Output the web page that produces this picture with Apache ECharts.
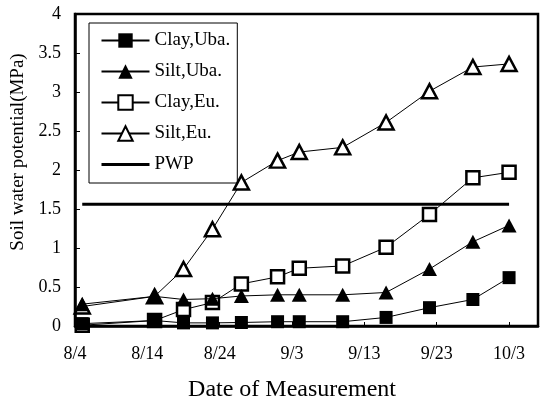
<!DOCTYPE html>
<html>
<head>
<meta charset="utf-8">
<script src="https://cdn.jsdelivr.net/npm/echarts@6/dist/echarts.min.js"></script>
<style>
html,body{margin:0;padding:0;background:#fff;}
#chart{width:541px;height:403px;}
</style>
</head>
<body>
<div id="chart"></div>
<script>
// ---- data ----
var startDate = '8/4';
var measureDates = ['8/5','8/15','8/19','8/23','8/27','9/1','9/4','9/10','9/16','9/22','9/28','10/3'];
var tickLabels = ['8/4','8/14','8/24','9/3','9/13','9/23','10/3'];
var clayUba = [0.03, 0.07, 0.04, 0.04, 0.045, 0.055, 0.055, 0.055, 0.11, 0.235, 0.34, 0.62];
var siltUba = [0.28, 0.38, 0.34, 0.35, 0.385, 0.40, 0.40, 0.40, 0.43, 0.73, 1.08, 1.29];
var clayEu  = [0.01, 0.07, 0.21, 0.30, 0.54, 0.63, 0.74, 0.77, 1.01, 1.43, 1.90, 1.97];
var siltEu  = [0.25, 0.38, 0.73, 1.24, 1.84, 2.12, 2.23, 2.29, 2.61, 3.01, 3.32, 3.36];
var pwpValue = 1.56;

// ---- helpers ----
function dayNum(s){
  var p = s.split('/');
  var a = startDate.split('/');
  return Math.round((Date.UTC(2000, +p[0]-1, +p[1]) - Date.UTC(2000, +a[0]-1, +a[1])) / 86400000);
}
var days = measureDates.map(dayNum);
function pairs(vals){ return vals.map(function(v,i){ return [days[i], v]; }); }

var FONT = '"Liberation Serif", "Times New Roman", serif';
var chart = echarts.init(document.getElementById('chart'), null, {renderer:'canvas'});

function lineSeries(name, vals, symbol, filled, z){
  return {
    name: name, type: 'line', data: pairs(vals),
    symbol: symbol, symbolSize: symbol === 'triangle' ? [15,14] : 13,
    z: z,
    lineStyle: {color:'#000', width:1},
    itemStyle: filled ? {color:'#000', borderColor:'#000', borderWidth:0}
                      : {color:'#fff', borderColor:'#000', borderWidth:2.5},
    emphasis: {disabled:true}
  };
}

chart.setOption({
  animation: false,
  backgroundColor: '#fff',
  grid: {left:75, right:3, top:14, bottom:77, show:true, borderColor:'#000', borderWidth:2.5, containLabel:false},
  legend: {
    orient: 'vertical', left: 89, top: 23,
    padding: [8, 7, 9, 11],
    borderColor: '#000', borderWidth: 1,
    itemWidth: 48, itemHeight: 18, itemGap: 12,
    selectedMode: false,
    textStyle: {fontFamily: FONT, fontSize: 19, color:'#000', lineHeight: 18},
    data: ['Clay,Uba.','Silt,Uba.','Clay,Eu.','Silt,Eu.',
           {name:'PWP', itemStyle:{opacity:0}, lineStyle:{width:3, color:'#000'}}]
  },
  xAxis: {
    type: 'value', min: 0, max: 64, interval: 10,
    axisLine: {show:true, lineStyle:{color:'#000', width:2.5}},
    axisTick: {show:true, inside:true, length:4, lineStyle:{color:'#000', width:1}},
    splitLine: {show:false},
    axisLabel: {
      margin: 19, fontFamily: FONT, fontSize: 18, color:'#000',
      formatter: function(v){ return (v % 10 === 0) ? (tickLabels[v/10] || '') : ''; }
    }
  },
  yAxis: {
    type: 'value', min: 0, max: 4, interval: 0.5,
    axisLine: {show:true, lineStyle:{color:'#000', width:2.5}},
    axisTick: {show:true, inside:true, length:5, lineStyle:{color:'#000', width:1}},
    splitLine: {show:false},
    axisLabel: {margin: 14, fontFamily: FONT, fontSize: 18, color:'#000'}
  },
  graphic: [
    {type:'text', x:292, y:390, style:{text:'Date of Measurement', font:'24px ' + FONT, fill:'#000', align:'center', verticalAlign:'middle'}},
    {type:'text', x:18, y:152, rotation: Math.PI/2, style:{text:'Soil water potential(MPa)', font:'19px ' + FONT, fill:'#000', align:'center', verticalAlign:'middle'}}
  ],
  series: [
    lineSeries('Clay,Uba.', clayUba, 'rect', true, 5),
    lineSeries('Silt,Uba.', siltUba, 'triangle', true, 5),
    lineSeries('Clay,Eu.', clayEu, 'rect', false, 3),
    lineSeries('Silt,Eu.', siltEu, 'triangle', false, 3),
    {
      name: 'PWP', type: 'line', symbol: 'none', z: 2,
      data: [[days[0], pwpValue], [days[days.length-1], pwpValue]],
      lineStyle: {color:'#000', width:3},
      itemStyle: {color:'#000'},
      emphasis: {disabled:true}
    }
  ]
});
</script>
</body>
</html>
